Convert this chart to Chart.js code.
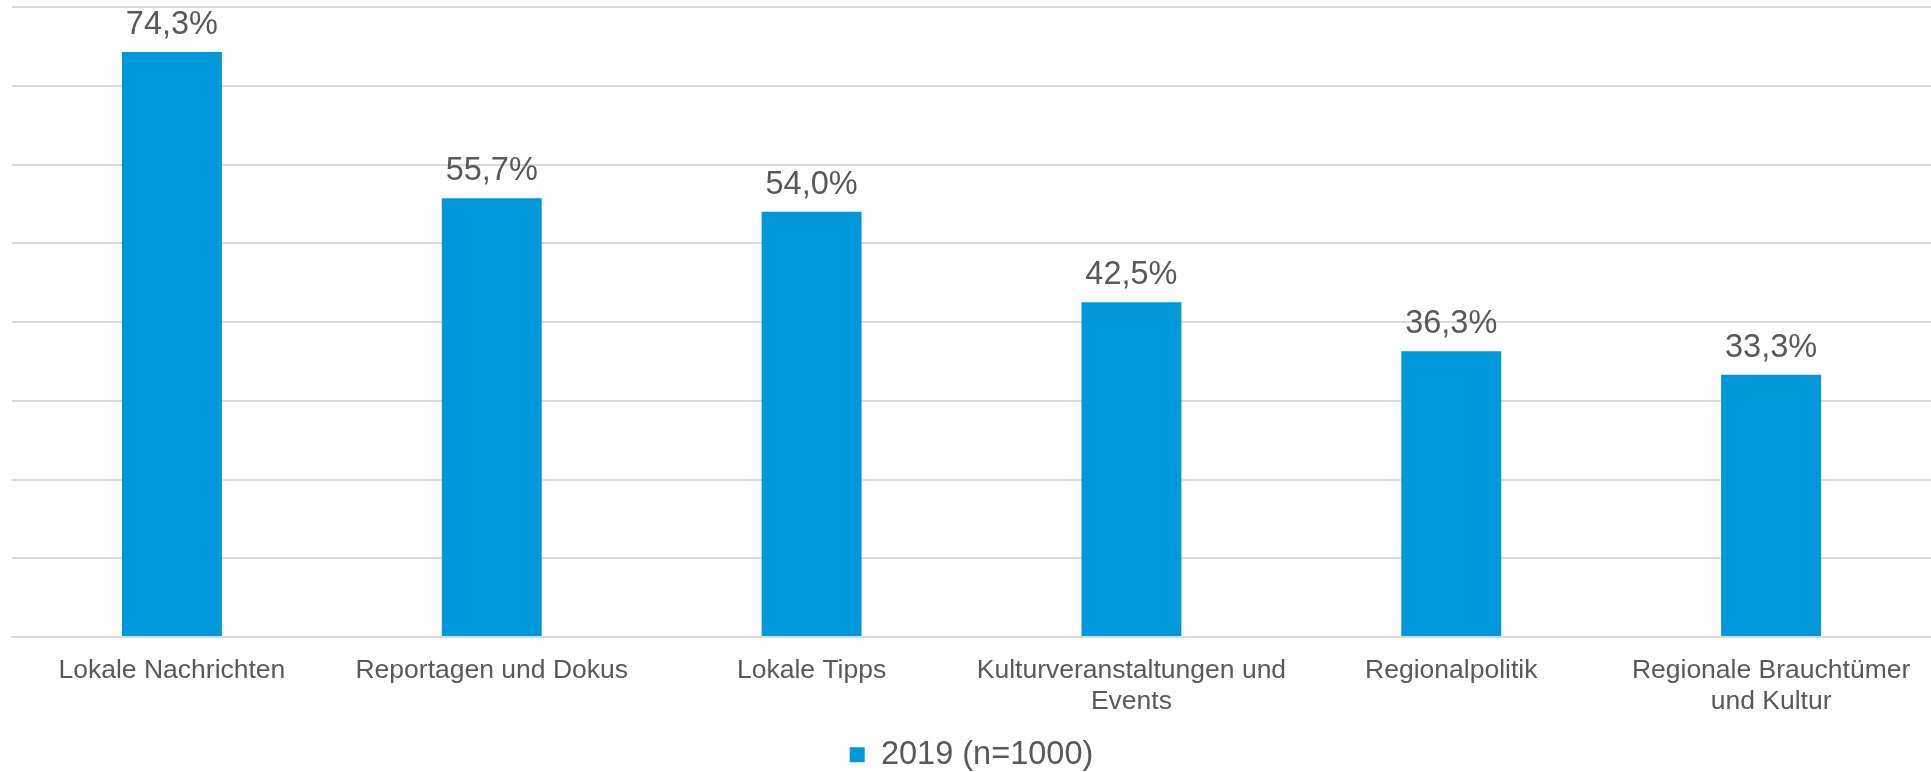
<!DOCTYPE html>
<html lang="de">
<head>
    <meta charset="UTF-8">
    <title>Interesse an Themen 2019</title>
    <script src="https://cdn.jsdelivr.net/npm/chart.js"></script>
    <style>
        html, body { margin: 0; padding: 0; background: #fff; }
        #wrap { width: 1931px; height: 772px; position: relative; }
    </style>
</head>
<body>
    <div id="wrap"><canvas id="chart"></canvas></div>

    <script>
    // data
    const categories = [
        "Lokale Nachrichten",
        "Reportagen und Dokus",
        "Lokale Tipps",
        ["Kulturveranstaltungen und", "Events"],
        "Regionalpolitik",
        ["Regionale Brauchtümer", "und Kultur"]
    ];
    const values2019 = [74.3, 55.7, 54.0, 42.5, 36.3, 33.3];
    const seriesName = "2019 (n=1000)";
    const yMax = 80;
    const yStep = 10;

    const textColor = "#595959";
    const barColor = "#0098da";
    const gridColor = "#d9d9d9";
    const fontFamily = "'Liberation Sans', Arial, sans-serif";

    // value labels above bars, with German decimal comma
    const valueLabels = {
        id: "valueLabels",
        afterDatasetsDraw(chart) {
            const ctx = chart.ctx;
            const meta = chart.getDatasetMeta(0);
            ctx.save();
            ctx.font = "32.5px " + fontFamily;
            ctx.fillStyle = textColor;
            ctx.textAlign = "center";
            ctx.textBaseline = "alphabetic";
            meta.data.forEach((bar, i) => {
                const txt = values2019[i].toFixed(1).replace(".", ",") + "%";
                ctx.fillText(txt, bar.x, bar.y - 18);
            });
            ctx.restore();
        }
    };

    new Chart(document.getElementById("chart"), {
        type: "bar",
        data: {
            labels: categories,
            datasets: [{
                label: seriesName,
                data: values2019,
                backgroundColor: barColor,
                borderWidth: 0,
                barPercentage: 0.3125,
                categoryPercentage: 1.0
            }]
        },
        options: {
            responsive: true,
            maintainAspectRatio: false,
            animation: false,
            layout: { padding: { left: 12, top: 7, right: 0, bottom: -9 } },
            plugins: {
                tooltip: { enabled: false },
                legend: {
                    position: "bottom",
                    labels: {
                        boxWidth: 15,
                        boxHeight: 15,
                        padding: 0,
                        color: textColor,
                        font: { family: fontFamily, size: 32.5 }
                    }
                }
            },
            scales: {
                x: {
                    grid: { display: false, drawTicks: false },
                    border: { display: true, color: gridColor, width: 2 },
                    ticks: {
                        color: textColor,
                        padding: 18,
                        maxRotation: 0,
                        autoSkip: false,
                        font: { family: fontFamily, size: 26.5, lineHeight: 1.17 }
                    },
                    afterFit(scale) { scale.height = 101.5; }
                },
                y: {
                    min: 0,
                    max: yMax,
                    ticks: { stepSize: yStep, display: false },
                    grid: { color: gridColor, lineWidth: 2, drawTicks: false },
                    border: { display: false }
                }
            }
        },
        plugins: [valueLabels]
    });
    </script>
</body>
</html>
